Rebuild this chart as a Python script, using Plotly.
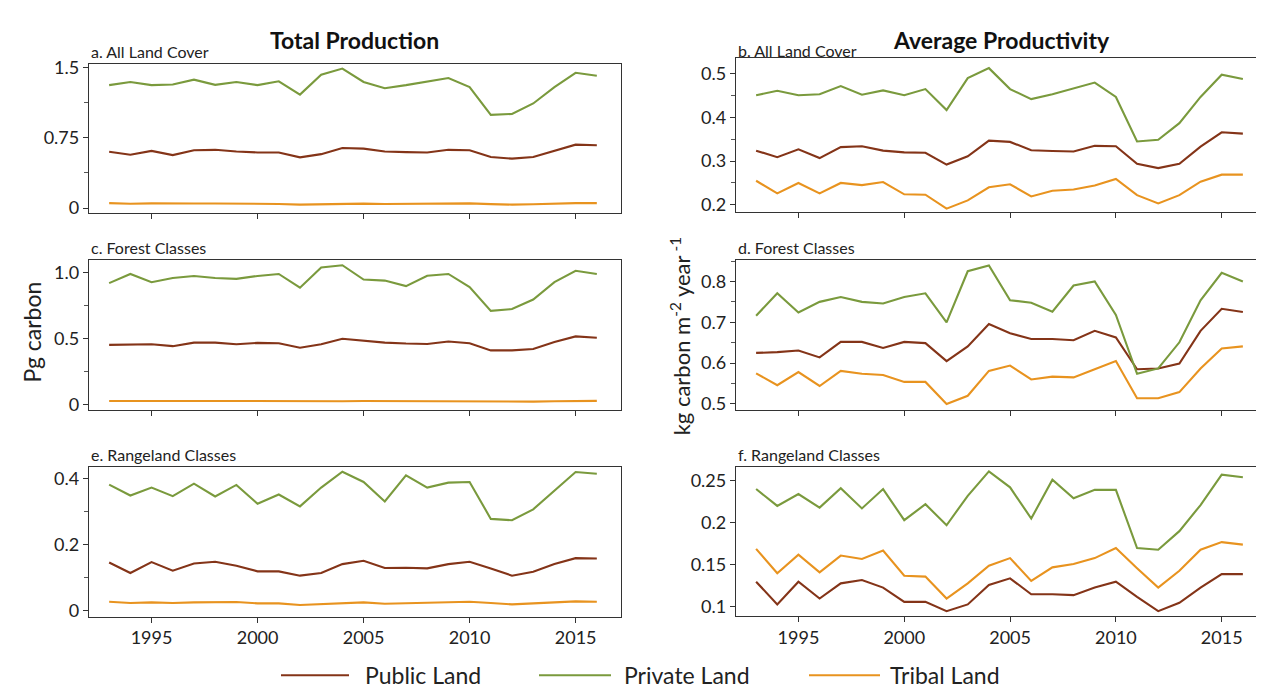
import plotly.graph_objects as go

years = list(range(1993, 2017))

# a. Total production, all land cover (Pg carbon)
a_public = [0.599, 0.567, 0.609, 0.564, 0.616, 0.620, 0.602, 0.592, 0.592, 0.540, 0.574, 0.640,
            0.633, 0.602, 0.595, 0.592, 0.620, 0.616, 0.543, 0.526, 0.543, 0.609, 0.675, 0.668]
a_private = [1.309, 1.343, 1.309, 1.316, 1.368, 1.312, 1.343, 1.309, 1.350, 1.208, 1.420, 1.486,
             1.343, 1.277, 1.309, 1.350, 1.385, 1.288, 0.992, 1.002, 1.114, 1.288, 1.441, 1.410]
a_tribal = [0.052, 0.046, 0.049, 0.046, 0.048, 0.048, 0.048, 0.043, 0.043, 0.036, 0.040, 0.046,
            0.047, 0.043, 0.044, 0.046, 0.047, 0.049, 0.041, 0.036, 0.040, 0.047, 0.052, 0.052]

# b. Average productivity, all land cover (kg C m-2 yr-1)
b_public = [0.324, 0.309, 0.327, 0.307, 0.332, 0.334, 0.324, 0.320, 0.319, 0.292, 0.311, 0.347,
            0.344, 0.325, 0.323, 0.322, 0.335, 0.334, 0.294, 0.284, 0.294, 0.333, 0.366, 0.363]
b_private = [0.451, 0.461, 0.451, 0.453, 0.472, 0.452, 0.462, 0.451, 0.465, 0.417, 0.490, 0.513,
             0.465, 0.442, 0.453, 0.467, 0.480, 0.447, 0.345, 0.349, 0.387, 0.447, 0.498, 0.488]
b_tribal = [0.255, 0.226, 0.250, 0.226, 0.250, 0.245, 0.252, 0.224, 0.223, 0.191, 0.210, 0.240,
            0.247, 0.219, 0.232, 0.235, 0.244, 0.259, 0.222, 0.203, 0.222, 0.253, 0.269, 0.269]

# c. Total production, forest classes
c_public = [0.452, 0.452, 0.456, 0.442, 0.469, 0.469, 0.456, 0.467, 0.464, 0.430, 0.456, 0.498,
            0.481, 0.469, 0.462, 0.459, 0.477, 0.464, 0.410, 0.410, 0.420, 0.474, 0.516, 0.506]
c_private = [0.919, 0.988, 0.926, 0.958, 0.973, 0.958, 0.951, 0.973, 0.988, 0.884, 1.037, 1.054,
             0.946, 0.938, 0.896, 0.975, 0.988, 0.889, 0.709, 0.723, 0.795, 0.926, 1.012, 0.988]
c_tribal = [0.027, 0.026, 0.027, 0.026, 0.027, 0.027, 0.027, 0.026, 0.026, 0.023, 0.024, 0.026,
            0.027, 0.026, 0.026, 0.026, 0.027, 0.027, 0.023, 0.022, 0.023, 0.026, 0.028, 0.028]

# d. Average productivity, forest classes
d_public = [0.625, 0.627, 0.631, 0.614, 0.652, 0.652, 0.637, 0.652, 0.649, 0.605, 0.641, 0.696,
            0.673, 0.659, 0.659, 0.656, 0.679, 0.663, 0.585, 0.587, 0.599, 0.679, 0.733, 0.725]
d_private = [0.716, 0.771, 0.724, 0.750, 0.762, 0.750, 0.746, 0.762, 0.771, 0.700, 0.825, 0.839,
             0.754, 0.748, 0.726, 0.790, 0.800, 0.718, 0.574, 0.587, 0.651, 0.754, 0.821, 0.800]
d_tribal = [0.575, 0.546, 0.578, 0.544, 0.581, 0.574, 0.571, 0.554, 0.554, 0.500, 0.520, 0.581,
            0.594, 0.560, 0.567, 0.565, 0.585, 0.605, 0.514, 0.514, 0.529, 0.587, 0.636, 0.641]

# e. Total production, rangeland classes
e_public = [0.146, 0.114, 0.147, 0.121, 0.143, 0.148, 0.136, 0.119, 0.119, 0.106, 0.114, 0.141,
            0.151, 0.129, 0.130, 0.128, 0.141, 0.148, 0.128, 0.106, 0.118, 0.141, 0.159, 0.158]
e_private = [0.382, 0.349, 0.373, 0.347, 0.385, 0.346, 0.381, 0.324, 0.352, 0.316, 0.373, 0.421,
             0.390, 0.331, 0.410, 0.373, 0.388, 0.390, 0.278, 0.274, 0.307, 0.363, 0.420, 0.415]
e_tribal = [0.027, 0.023, 0.025, 0.023, 0.025, 0.025, 0.026, 0.022, 0.022, 0.017, 0.020, 0.024,
            0.025, 0.021, 0.023, 0.024, 0.025, 0.027, 0.023, 0.019, 0.022, 0.026, 0.028, 0.027]

# f. Average productivity, rangeland classes
f_public = [0.130, 0.103, 0.130, 0.110, 0.128, 0.132, 0.123, 0.106, 0.106, 0.095, 0.103, 0.126,
            0.134, 0.115, 0.115, 0.114, 0.123, 0.130, 0.112, 0.095, 0.105, 0.123, 0.139, 0.139]
f_private = [0.240, 0.220, 0.234, 0.218, 0.241, 0.217, 0.240, 0.203, 0.222, 0.197, 0.232, 0.261,
             0.242, 0.205, 0.251, 0.229, 0.239, 0.239, 0.170, 0.168, 0.190, 0.221, 0.257, 0.254]
f_tribal = [0.169, 0.140, 0.162, 0.141, 0.161, 0.157, 0.167, 0.137, 0.136, 0.110, 0.128, 0.149,
            0.158, 0.131, 0.147, 0.151, 0.158, 0.170, 0.146, 0.123, 0.143, 0.168, 0.177, 0.174]

series_names = ["Public Land", "Private Land", "Tribal Land"]
colors = {"Public Land": "#843418", "Private Land": "#7A9A3D", "Tribal Land": "#E8931F"}

panels = [
    ("a. All Land Cover", [a_public, a_private, a_tribal], [-0.049, 1.5376], [0, 0.75, 1.5], ["0", "0.75", "1.5"], 0.375),
    ("b. All Land Cover", [b_public, b_private, b_tribal], [0.1836, 0.5366], [0.2, 0.3, 0.4, 0.5], ["0.2", "0.3", "0.4", "0.5"], 0.05),
    ("c. Forest Classes", [c_public, c_private, c_tribal], [-0.037, 1.092], [0, 0.5, 1.0], ["0", "0.5", "1.0"], 0.25),
    ("d. Forest Classes", [d_public, d_private, d_tribal], [0.4864, 0.852], [0.5, 0.6, 0.7, 0.8], ["0.5", "0.6", "0.7", "0.8"], 0.05),
    ("e. Rangeland Classes", [e_public, e_private, e_tribal], [-0.0178, 0.4344], [0, 0.2, 0.4], ["0", "0.2", "0.4"], 0.1),
    ("f. Rangeland Classes", [f_public, f_private, f_tribal], [0.089, 0.2658], [0.1, 0.15, 0.2, 0.25], ["0.1", "0.15", "0.2", "0.25"], None),
]

W, H = 1264, 687
FONT = "Lato"
x_left = [81 / W, 613 / W]
x_right = [728 / W, 1259 / W]
rows_px = [(48.7, 200.7), (42.7, 200.0), (249.3, 401.7), (249.3, 401.7), (460.7, 613.0), (460.7, 612.7)]
label_shift = [1, -4, 1, 1, 1, 1]
xrange_ = [1992.05, 2017.14]

fig = go.Figure()
layout = {}
annotations = []
for i, (label, data, yr, tv, tt, minor) in enumerate(panels):
    n = i + 1
    xa = "x" if n == 1 else f"x{n}"
    ya = "y" if n == 1 else f"y{n}"
    for name, vals in zip(series_names, data):
        fig.add_trace(go.Scatter(
            x=years, y=vals, mode="lines", name=name,
            line=dict(color=colors[name], width=2.1),
            xaxis=xa, yaxis=ya, showlegend=False,
        ))
    top, bot = rows_px[i]
    dom_y = [1 - bot / H, 1 - top / H]
    dom_x = x_left if i % 2 == 0 else x_right
    bottom_row = i >= 4
    layout["xaxis" if n == 1 else f"xaxis{n}"] = dict(
        domain=dom_x, anchor=ya, range=xrange_,
        tickvals=[1995, 2000, 2005, 2010, 2015],
        ticktext=["1995", "2000", "2005", "2010", "2015"],
        showticklabels=bottom_row, ticks="outside", ticklen=5, tickwidth=1.2, tickcolor="#333",
        showline=True, mirror=True, linecolor="#333", linewidth=1.3,
        showgrid=False, zeroline=False,
        tickfont=dict(family=FONT, size=18, color="#222"),
    )
    yax = dict(
        domain=dom_y, anchor=xa, range=yr, tickvals=tv, ticktext=tt,
        ticks="outside", ticklen=5, tickwidth=1.2, tickcolor="#333",
        showline=True, mirror=True, linecolor="#333", linewidth=1.3,
        showgrid=False, zeroline=False,
        tickfont=dict(family=FONT, size=18, color="#222"),
    )
    if minor:
        yax["minor"] = dict(ticks="outside", ticklen=4, tickwidth=1, tickcolor="#555",
                            tick0=tv[0], dtick=minor, showgrid=False)
    layout["yaxis" if n == 1 else f"yaxis{n}"] = yax
    annotations.append(dict(
        text=label, x=dom_x[0], y=dom_y[1], xref="paper", yref="paper",
        xanchor="left", yanchor="bottom", yshift=label_shift[i], showarrow=False,
        font=dict(family=FONT, size=16, color="#222"),
    ))

annotations += [
    dict(text="<b>Total Production</b>", x=(x_left[0] + x_left[1]) / 2, y=1 - 24 / H,
         xref="paper", yref="paper", xanchor="center", yanchor="middle", showarrow=False,
         font=dict(family=FONT, size=23, color="#111")),
    dict(text="<b>Average Productivity</b>", x=(x_right[0] + x_right[1]) / 2, y=1 - 24 / H,
         xref="paper", yref="paper", xanchor="center", yanchor="middle", showarrow=False,
         font=dict(family=FONT, size=23, color="#111")),
    dict(text="Pg carbon", x=24 / W, y=1 - 323 / H, xref="paper", yref="paper",
         xanchor="center", yanchor="middle", textangle=-90, showarrow=False,
         font=dict(family=FONT, size=23, color="#222")),
    dict(text="kg carbon m<sup>-2</sup> year<sup> -1</sup>", x=672 / W, y=1 - 327 / H,
         xref="paper", yref="paper", xanchor="center", yanchor="middle", textangle=-90,
         showarrow=False, font=dict(family=FONT, size=22, color="#222")),
]

# legend (swatch + label for each series)
legend_y = 1 - 673 / H
legend_pos = {"Public Land": (273, 341, 355), "Private Land": (531, 603, 614), "Tribal Land": (801, 872, 880)}
shapes = []
for name in series_names:
    x0, x1, xt = legend_pos[name]
    shapes.append(dict(type="line", xref="paper", yref="paper", x0=x0 / W, x1=x1 / W,
                       y0=legend_y, y1=legend_y, line=dict(color=colors[name], width=2.1)))
    annotations.append(dict(text=name, x=xt / W, y=legend_y, xref="paper", yref="paper",
                            xanchor="left", yanchor="middle", showarrow=False,
                            font=dict(family=FONT, size=23, color="#222")))

fig.update_layout(
    **layout,
    annotations=annotations,
    shapes=shapes,
    width=W, height=H,
    margin=dict(l=0, r=0, t=0, b=0),
    paper_bgcolor="white", plot_bgcolor="white",
    showlegend=False,
)

fig.write_html("out.html")
